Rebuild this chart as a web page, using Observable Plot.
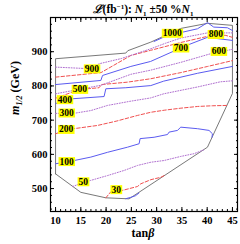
<!DOCTYPE html>
<html><head><meta charset="utf-8">
<script src="https://cdn.jsdelivr.net/npm/d3@7"></script>
<script src="https://cdn.jsdelivr.net/npm/@observablehq/plot@0.6"></script>
<style>body{margin:0;background:#fff} svg{display:block}</style>
</head><body><div id="chart"></div>
<script>
// boundary of the allowed region (tanβ, m1/2)
const boundary = [[10,543],[15,489],[19.95,473],[24.55,470],[40.06,621],[45,778],[45,977],[40.1,983],[34.76,968],[28.84,928],[24.3,903],[23.9,896],[10,879.5],[10,543]];
// contour lines (luminosity levels in fb^-1)
const c20 = [[23.9,470.5],[24.8,474],[25.8,479],[26.5,487]];
const c30 = [[19.95,473],[20.9,490],[23.3,495],[26.2,506],[26.87,514],[28.85,526],[30.83,533],[31.48,538]];
const c50 = [[13.4,506],[15.5,518],[16.9,523.6],[20.28,538],[23.57,553],[26.2,567.5],[28.85,577],[31.47,582],[34.78,594],[37.4,602],[39.3,613]];
const c100 = [[10,572.5],[13.68,582],[16.98,592],[20.28,606],[24.24,621],[26.53,631],[26.73,646],[29.5,650],[32.15,658],[32.46,665],[34.12,670],[34.78,679.5],[38.08,675],[40.37,670],[41.05,660],[40.95,650]];
const c200 = [[10,660],[12.1,672],[13.6,675],[18.3,684.5],[22,697],[26.2,713.7],[28.84,723],[31.5,729],[34.8,735],[38.1,740],[41,742],[43.9,743]];
const c300 = [[10,719.6],[12.2,721],[13.68,720],[16.98,728],[20.28,743],[24.7,755],[28.84,765],[31.4,777],[38.1,797],[42.6,812],[45,815]];
const c400 = [[10,748],[11.84,760],[13.36,762.5],[19.6,769],[19.95,791.7],[23.9,794.7],[28.84,801],[31.4,814],[38.1,837],[45,857]];
const c500 = [[10,764],[14.8,790],[16.33,791.7],[18.6,794.7],[19.1,804],[24.2,811],[28.84,821],[34.8,839],[40.1,857],[45,874]];
const c600 = [[10,777],[19,802],[24.9,834],[28.8,846],[34.8,869],[42.3,901],[44,904],[45,907]];
const c700 = [[10,804],[18.96,816],[19.3,830.6],[24.9,857],[28.8,871.5],[34.8,911],[36.4,921],[40.06,942],[45,933]];
const c800 = [[10,825.7],[19,839],[24.9,889],[28.8,904],[34.8,927],[41.7,950.5],[43.7,947.6],[45,942]];
const c900 = [[10,855],[17.2,850],[18.6,864.7],[23,880],[28.84,908.6],[31.8,925],[34.8,940],[40.06,955],[45,955]];
const c1000 = [[29.5,930],[33.1,954],[35.1,957],[38.08,967],[40.06,985],[41.3,972],[44,970],[45,962]];
// contour labels
const labelText = ["1000","800","900","700","600","500","400","300","200","100","50","30"];
const labelX = [33.1,41.7,17.2,34.8,42.3,14.8,11.84,12.2,12.1,12.2,15.5,22.0];
const labelY = [954,950.5,850,911,901,790,760,721,673,579,520,497];
// axis ticks
const xTicks = [10,15,20,25,30,35,40,45];
const yTicks = [500,600,700,800,900];

const styleOf = {blue:{stroke:"#5b5bf0"}, red:{stroke:"#f05050", strokeDasharray:"3.5,2"}, purple:{stroke:"#b070d0", strokeDasharray:"1,1.6"}};
const contours = [
  ["20","blue",c20],["30","red",c30],["50","purple",c50],["100","blue",c100],["200","red",c200],
  ["300","purple",c300],["400","blue",c400],["500","red",c500],["600","purple",c600],
  ["700","blue",c700],["800","red",c800],["900","purple",c900],["1000","blue",c1000]
];
const rows = s => contours.filter(c => c[1] === s).flatMap(([level, , pts]) => pts.map(([x, y]) => ({x, y, level})));
const boundaryRows = boundary.map(([x, y]) => ({x, y}));
const labels = labelText.map((t, i) => ({t, x: labelX[i], y: labelY[i]}));

const serif = "'Liberation Serif','Times New Roman',serif";
const chart = Plot.plot({
  width: 240, height: 244,
  marginLeft: 50, marginRight: 3, marginTop: 17, marginBottom: 33,
  x: {domain: [9, 46]},
  y: {domain: [433, 1000]},
  style: {fontFamily: serif, fontSize: "10.5px", fontWeight: "bold", background: "#fff", color: "#000"},
  marks: [
    Plot.line(boundaryRows, {x: "x", y: "y", stroke: "#555", strokeWidth: 0.8}),
    ...["blue", "red", "purple"].map(s => Plot.line(rows(s), {x: "x", y: "y", z: "level", strokeWidth: 1, ...styleOf[s]})),
    Plot.text(labels, {x: "x", y: "y", text: "t", className: "clabel", fontSize: 9.5, fontWeight: "bold", fill: "#000"}),
    Plot.frame({stroke: "#000", strokeWidth: 1.2}),
    Plot.axisX({anchor: "bottom", ticks: xTicks, tickSize: 0, tickPadding: 5, label: null}),
    Plot.axisY({anchor: "left", ticks: yTicks, tickSize: 0, tickPadding: 3, label: null}),
    Plot.axisX({anchor: "bottom", ticks: xTicks, tickSize: -4, tickFormat: () => "", label: null}),
    Plot.axisX({anchor: "top", ticks: xTicks, tickSize: -4, tickFormat: () => "", label: null}),
    Plot.axisX({anchor: "bottom", ticks: d3.range(10, 46, 1), tickSize: -2, tickFormat: () => "", label: null}),
    Plot.axisX({anchor: "top", ticks: d3.range(10, 46, 1), tickSize: -2, tickFormat: () => "", label: null}),
    Plot.axisY({anchor: "left", ticks: yTicks, tickSize: -4, tickFormat: () => "", label: null}),
    Plot.axisY({anchor: "right", ticks: yTicks, tickSize: -4, tickFormat: () => "", label: null}),
    Plot.axisY({anchor: "left", ticks: d3.range(440, 1001, 20), tickSize: -2, tickFormat: () => "", label: null}),
    Plot.axisY({anchor: "right", ticks: d3.range(440, 1001, 20), tickSize: -2, tickFormat: () => "", label: null})
  ]
});
document.getElementById("chart").append(chart);

// yellow boxes behind contour labels
d3.select(chart).selectAll(".clabel text").each(function() {
  const bb = this.getBBox();
  const r = document.createElementNS("http://www.w3.org/2000/svg", "rect");
  r.setAttribute("x", bb.x - 1); r.setAttribute("y", bb.y + 0.5);
  r.setAttribute("width", bb.width + 2); r.setAttribute("height", bb.height - 1);
  r.setAttribute("fill", "#ffff00");
  const tr = this.getAttribute("transform"); if (tr) r.setAttribute("transform", tr);
  this.parentNode.insertBefore(r, this);
});

const svg = d3.select(chart);
// title
const title = svg.append("text").attr("x", 143).attr("y", 13).attr("text-anchor", "middle")
  .attr("font-family", serif).attr("font-weight", "bold").attr("font-size", 11.5).attr("fill", "#000");
title.append("tspan").attr("font-style", "italic").text("ℒ");
title.append("tspan").text("(fb");
title.append("tspan").attr("dy", -4).attr("font-size", 7).text("−1");
title.append("tspan").attr("dy", 4).text("): ");
title.append("tspan").attr("font-style", "italic").text("N");
title.append("tspan").attr("dy", 2.5).attr("font-size", 7).text("1");
title.append("tspan").attr("dy", -2.5).text(" ±50 %");
title.append("tspan").attr("font-style", "italic").text("N");
title.append("tspan").attr("dy", 2.5).attr("font-size", 7).text("1");
// y label
const yl = svg.append("text").attr("transform", "translate(19,88) rotate(-90)").attr("text-anchor", "middle")
  .attr("font-family", serif).attr("font-weight", "bold").attr("font-size", 12).attr("fill", "#000");
yl.append("tspan").attr("font-style", "italic").text("m");
yl.append("tspan").attr("dy", 3).attr("font-size", 8).attr("font-style", "italic").text("1/2");
yl.append("tspan").attr("dy", -3).text(" (GeV)");
// x label
const xl = svg.append("text").attr("x", 143).attr("y", 237).attr("text-anchor", "middle")
  .attr("font-family", serif).attr("font-weight", "bold").attr("font-size", 12).attr("fill", "#000");
xl.append("tspan").text("tan");
xl.append("tspan").attr("font-style", "italic").text("β");
</script></body></html>
